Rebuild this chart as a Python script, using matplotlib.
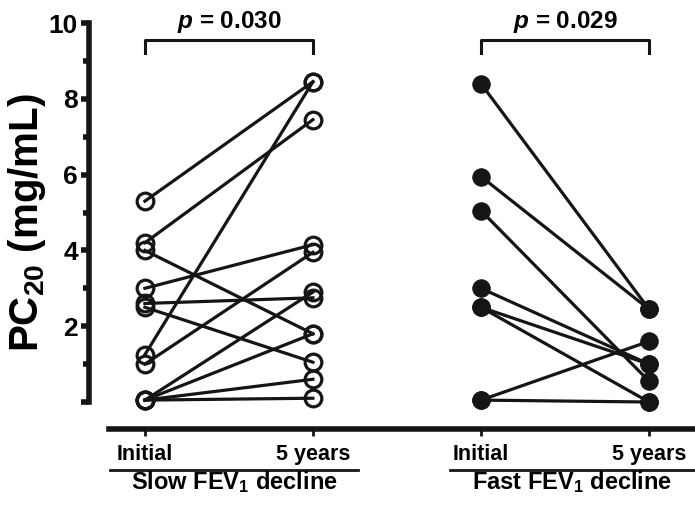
import numpy as np
import matplotlib
matplotlib.use("Agg")
from matplotlib import pyplot as plt
from matplotlib import transforms

plt.rcParams['font.family'] = ['Liberation Sans', 'DejaVu Sans']
plt.rcParams['font.weight'] = 'bold'
plt.rcParams['mathtext.fontset'] = 'custom'
plt.rcParams['mathtext.rm'] = 'Liberation Sans:bold'
plt.rcParams['mathtext.bf'] = 'Liberation Sans:bold'
plt.rcParams['mathtext.it'] = 'Liberation Sans:italic:bold'

# PC20 values (mg/mL), one entry per subject
slow_initial = [5.3, 4.2, 4.0, 3.0, 2.6, 2.5, 1.25, 1.0, 0.05, 0.05, 0.05, 0.05]
slow_5y = [8.45, 7.45, 1.8, 4.15, 2.75, 1.05, 8.45, 3.95, 2.9, 1.8, 0.6, 0.1]
fast_initial = [8.4, 5.95, 5.05, 3.0, 2.5, 2.5, 0.05, 0.05]
fast_5y = [2.45, 2.45, 0.55, 1.0, 1.0, 0.0, 1.6, 0.0]

tick_names = ["Initial", "5 years", "Initial", "5 years"]
group_names = ["Slow FEV$_1$ decline", "Fast FEV$_1$ decline"]
p_values = ["0.030", "0.029"]

col = '#151515'

fig = plt.figure(figsize=(6.95, 5.09), dpi=100)
ax = fig.add_axes([0.128, 0.2102, 0.872, 0.7446])

# slow group: open circles
for a, b in zip(slow_initial, slow_5y):
  ax.plot([0, 1], [a, b], color=col, lw=2.3, clip_on=False, zorder=2)
ax.plot([0]*len(slow_initial), slow_initial, 'o', ms=12, mfc='none', mec=col, mew=2.3, clip_on=False, zorder=3)
ax.plot([1]*len(slow_5y), slow_5y, 'o', ms=12, mfc='none', mec=col, mew=2.3, clip_on=False, zorder=3)

# fast group: filled circles
for a, b in zip(fast_initial, fast_5y):
  ax.plot([2, 3], [a, b], color=col, lw=2.3, clip_on=False, zorder=2)
ax.plot([2]*len(fast_initial), fast_initial, 'o', ms=12.5, mfc=col, mec=col, mew=0.8, clip_on=False, zorder=3)
ax.plot([3]*len(fast_5y), fast_5y, 'o', ms=12.5, mfc=col, mec=col, mew=0.8, clip_on=False, zorder=3)

ax.set_xlim(-0.333, 3.274)
ax.set_ylim(0, 10)

for s in ['top', 'right']:
  ax.spines[s].set_visible(False)
ax.spines['left'].set_linewidth(4)
ax.spines['left'].set_color(col)
ax.spines['left'].set_bounds(0, 10)
ax.spines['bottom'].set_linewidth(4)
ax.spines['bottom'].set_color(col)
ax.spines['bottom'].set_position(('outward', 19.5))
ax.spines['bottom'].set_bounds(-0.214, 3.274)

ax.set_yticks([0, 2, 4, 6, 8, 10], ['', '2', '4', '6', '8', '10'])
ax.set_yticks([1, 3, 5, 7, 9], minor=True)
ax.tick_params(axis='y', which='major', length=6, width=4, color=col, labelsize=19, pad=2)
ax.tick_params(axis='y', which='minor', length=4, width=4, color=col)
ax.set_xticks([0, 1, 2, 3], tick_names)
ax.tick_params(axis='x', which='major', length=5, width=2, color=col, labelsize=15.5, pad=6)
for lab in ax.get_xticklabels() + ax.get_yticklabels():
  lab.set_fontweight('bold')

fig.text(27/695, 1 - 223/509, "PC$_{20}$ (mg/mL)", rotation=90, ha='center', va='center',
         fontsize=29, fontweight='bold')

# significance brackets
for i, p in enumerate(p_values):
  x0, x1 = 2*i, 2*i + 1
  ax.plot([x0, x0, x1, x1], [9.21, 9.55, 9.55, 9.21], color=col, lw=2.2, clip_on=False)
  ax.text((x0 + x1)/2, 9.87, "$p$ = " + p, ha='center', va='baseline', fontsize=17.5, fontweight='bold')

# group underlines and names
tr = transforms.blended_transform_factory(ax.transData, fig.transFigure)
under = [(-0.208, 1.268), (1.815, 3.4)]
for (u0, u1), name in zip(under, group_names):
  ax.plot([u0, u1], [1 - 470/509]*2, color=col, lw=2, transform=tr, clip_on=False)
  ax.text((u0 + min(u1, 3.27))/2, 1 - 489/509, name, transform=tr, ha='center', va='baseline',
          fontsize=17, fontweight='bold')

fig.savefig("out.png", dpi=100)
